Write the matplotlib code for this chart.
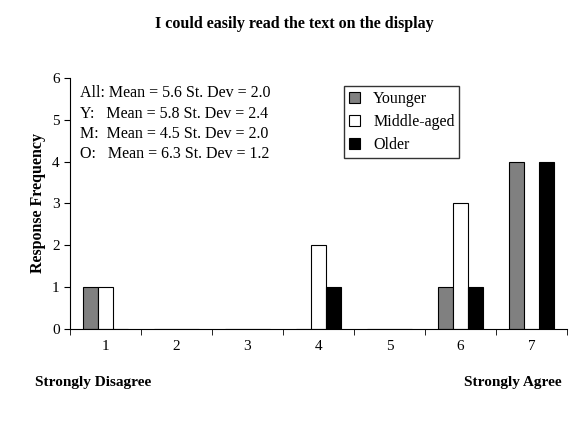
import numpy as np
import matplotlib
matplotlib.use('Agg')
import matplotlib.pyplot as plt

plt.rcParams['font.family'] = ['Liberation Serif', 'DejaVu Serif']

categories = ['1', '2', '3', '4', '5', '6', '7']
younger = [1, 0, 0, 0, 0, 1, 4]
middle = [1, 0, 0, 2, 0, 3, 0]
older = [0, 0, 0, 1, 0, 1, 4]
stats = ['All: Mean = 5.6 St. Dev = 2.0',
         'Y:   Mean = 5.8 St. Dev = 2.4',
         'M:  Mean = 4.5 St. Dev = 2.0',
         'O:   Mean = 6.3 St. Dev = 1.2']

fig = plt.figure(figsize=(5.88, 4.26), dpi=100)
ax = fig.add_axes([0.119, 0.228, 0.845, 0.589])
x = np.arange(len(categories))
w = 0.21
ax.bar(x - w, younger, w, color='#808080', edgecolor='black', linewidth=0.8, label='Younger')
ax.bar(x, middle, w, color='white', edgecolor='black', linewidth=0.8, label='Middle-aged')
ax.bar(x + w, older, w, color='black', edgecolor='black', linewidth=0.8, label='Older')

ax.set_xlim(-0.5, 6.5)
ax.set_ylim(0, 6)
ax.set_xticks(x)
ax.set_xticklabels(categories, fontsize=11)
ax.set_xticks(np.arange(-0.5, 7, 1), minor=True)
ax.tick_params(axis='x', which='major', length=0, pad=8)
ax.tick_params(axis='x', which='minor', length=4, direction='out')
ax.tick_params(axis='y', labelsize=11, length=4)
for s in ['top', 'right']:
    ax.spines[s].set_visible(False)
ax.set_ylabel('Response Frequency', fontsize=11.5, fontweight='bold')
fig.text(0.5, 0.935, 'I could easily read the text on the display', ha='center',
         fontsize=11.5, fontweight='bold')
ax.text(0.02, 0.97, '\n'.join(stats), transform=ax.transAxes, va='top',
        fontsize=11.5, linespacing=1.35)
ax.legend(loc='upper right', bbox_to_anchor=(0.80, 1.0), frameon=True, fancybox=False,
          edgecolor='black', fontsize=11.5, handlelength=0.7, borderpad=0.3,
          labelspacing=0.45)
fig.text(0.06, 0.095, 'Strongly Disagree', fontsize=11, fontweight='bold')
fig.text(0.955, 0.095, 'Strongly Agree', fontsize=11, fontweight='bold', ha='right')
fig.savefig('out.png', dpi=100)
